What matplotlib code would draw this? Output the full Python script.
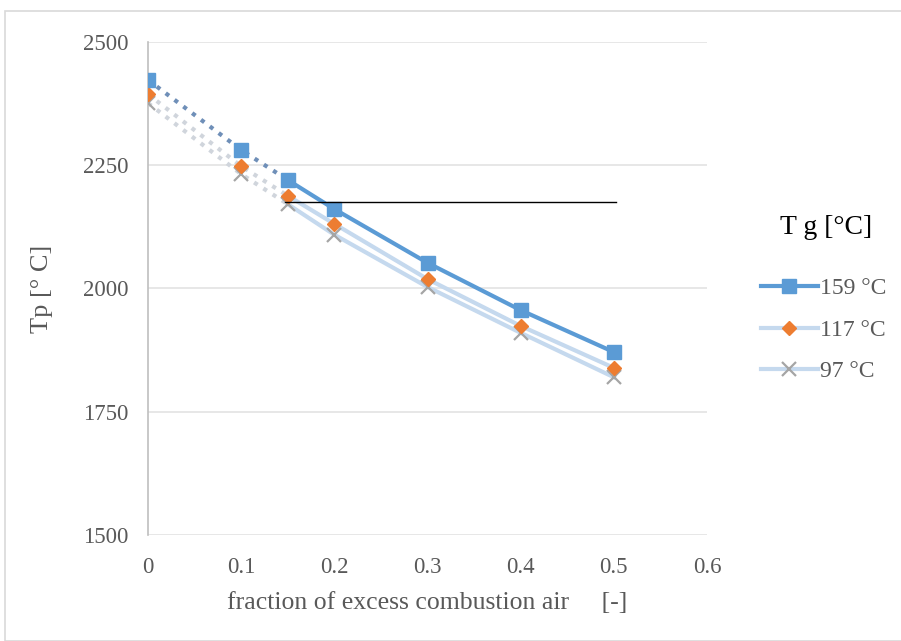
import matplotlib
matplotlib.use("Agg")
import matplotlib.pyplot as plt
from matplotlib.patches import Rectangle
from matplotlib.lines import Line2D

plt.rcParams['font.family'] = ['Liberation Serif', 'DejaVu Serif']

# excess air fraction and particle temperature for three gas temperatures
x = [0, 0.1, 0.15, 0.2, 0.3, 0.4, 0.5]
t159 = [2423, 2281, 2220, 2161, 2052, 1956, 1871]
t117 = [2394, 2248, 2188, 2131, 2019, 1924, 1839]
t97 = [2376, 2232, 2171, 2109, 2003, 1910, 1820]
labels = ['159 °C', '117 °C', '97 °C']
ref_level = 2175
ref_x = [0.147, 0.502]

yticks = [1500, 1750, 2000, 2250, 2500]
xticks = [0, 0.1, 0.2, 0.3, 0.4, 0.5, 0.6]

fig = plt.figure(figsize=(9.01, 6.41), dpi=100)
ax = fig.add_axes([0.1643, 0.1654, 0.6204, 0.7691])

dark = '#5B9BD5'
light = '#C5D9EE'
k = 2  # index of 0.15, where the dotted part ends

# dotted parts (extrapolated region)
ax.plot(x[:k + 1], t97[:k + 1], ':', color='#D0D5DC', lw=3, zorder=2)
ax.plot(x[:k + 1], t117[:k + 1], ':', color='#D0D5DC', lw=3, zorder=2)
ax.plot(x[:k + 1], t159[:k + 1], ':', color='#6F8FB8', lw=3, zorder=3)

# solid parts
ax.plot(x[k:], t97[k:], '-', color=light, lw=3, zorder=2)
ax.plot(x[k:], t117[k:], '-', color=light, lw=3, zorder=2)
ax.plot(x[k:], t159[k:], '-', color=dark, lw=3, zorder=3)

# markers
ax.plot(x, t97, 'x', color='#A5A5A5', ms=10, mew=1.6, ls='none', zorder=4)
ax.plot(x, t117, 'D', color='#ED7D31', ms=7.5, ls='none', zorder=5)
ax.plot(x, t159, 's', color=dark, ms=10, ls='none', zorder=6)

ax.plot(ref_x, [ref_level, ref_level], color='black', lw=1, zorder=7)

ax.set_xlim(0, 0.6)
ax.set_ylim(1500, 2500)
ax.set_xticks(xticks)
ax.set_xticklabels(['0', '0.1', '0.2', '0.3', '0.4', '0.5', '0.6'])
ax.set_yticks(yticks)
ax.tick_params(length=0, labelsize=16.5, labelcolor='#595959')
ax.tick_params(axis='y', pad=14)
ax.tick_params(axis='x', pad=16)
ax.yaxis.grid(True, color='#E0E0E0', lw=1.1)
ax.set_axisbelow(True)
for s in ['top', 'right', 'bottom']:
    ax.spines[s].set_visible(False)
ax.spines['left'].set_color('#BFBFBF')
ax.spines['left'].set_linewidth(1.2)

ax.set_ylabel('Tp [° C]', fontsize=19, color='#595959', labelpad=22)
ax.set_xlabel('fraction of excess combustion air     [-]', fontsize=18.5,
              color='#595959', labelpad=10)

handles = [
    Line2D([], [], color=dark, lw=3, marker='s', ms=10),
    Line2D([], [], color=light, lw=3, marker='D', ms=7.5, mfc='#ED7D31', mec='#ED7D31'),
    Line2D([], [], color=light, lw=3, marker='x', ms=10, mew=1.6, mec='#A5A5A5'),
]
leg = fig.legend(handles, labels, loc='upper left', bbox_to_anchor=(0.821, 0.6),
                 frameon=False, fontsize=17, handlelength=2.4, labelspacing=0.85,
                 handletextpad=0.1, labelcolor='#595959')
fig.text(0.866, 0.635, 'T g [°C]', fontsize=20, color='black')

fig.patches.append(Rectangle((0.006, 0.0), 1.0, 0.983, transform=fig.transFigure,
                             fill=False, edgecolor='#D9D9D9', lw=1.2))

fig.savefig('out.png', dpi=100)
